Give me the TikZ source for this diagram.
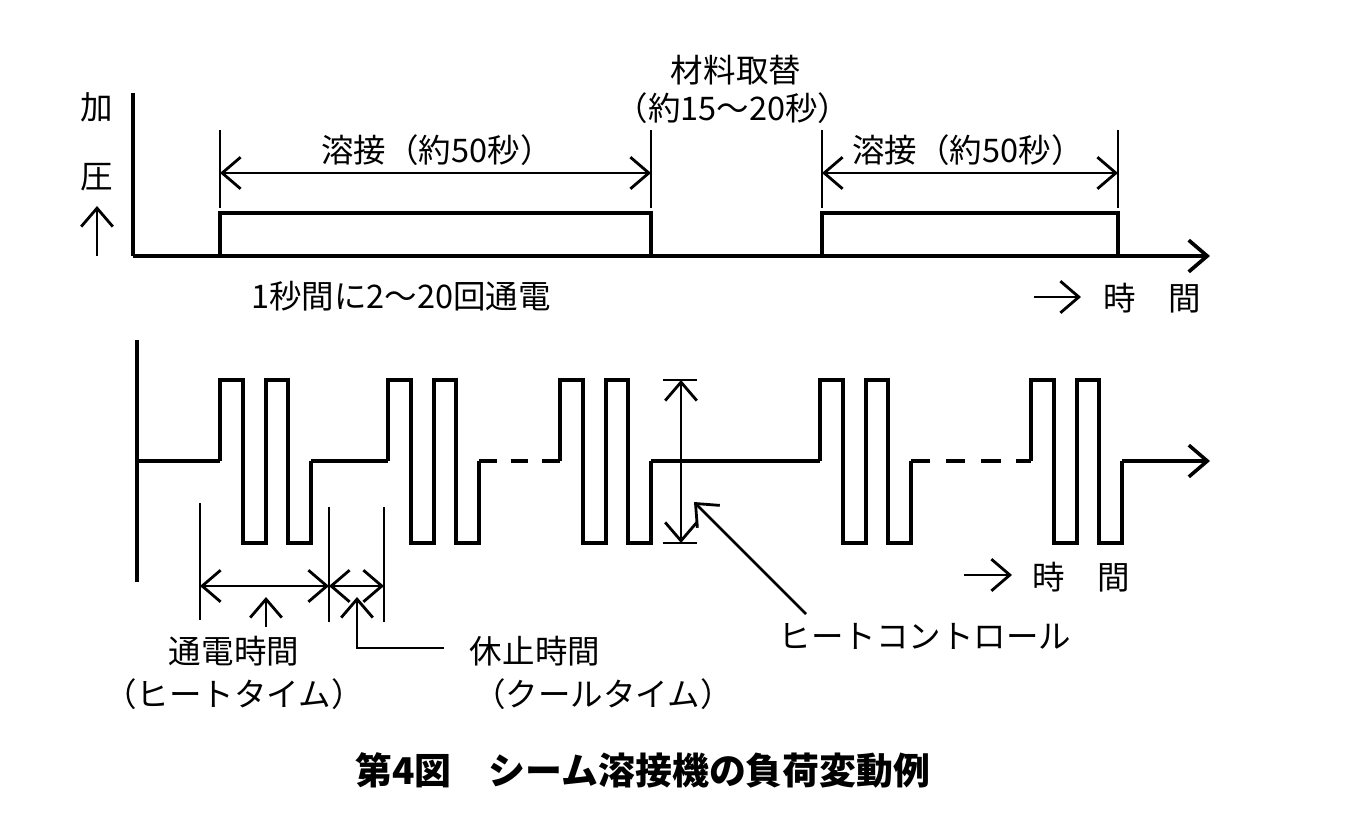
\documentclass[tikz,border=0pt]{standalone}
\usepackage{fontspec}
\setmainfont{Noto Sans CJK JP}
\usetikzlibrary{arrows.meta}

\begin{document}
\begin{tikzpicture}[x=0.02cm, y=-0.02cm,
    >={Straight Barb[length=10.5pt,width=18pt]},
    axis/.style={line width=2.1pt},
    wave/.style={line width=2.0pt},
    dim/.style={line width=1.6pt},
    lbl/.style={inner sep=0pt, font=\fontsize{18.5}{22}\selectfont},
    captxt/.style={inner sep=0pt, font=\fontsize{21}{25}\selectfont\bfseries}]
    \useasboundingbox (0,0) rectangle (1350,821);

    % --- pressure vs time ---
    \node[lbl] (ka) at (97,107) {加};
    \node[lbl] (atsu) at (97,177) {圧};
    \coordinate (up0) at (97,256);
    \coordinate (up1) at (97,206);
    \draw[dim,->] (up0) -- (up1);

    \coordinate (o1) at (133,256);
    \draw[axis] (133,93) -- (o1);
    \draw[axis,->] (o1) -- (1210,256);

    \draw[wave] (220,256) |- (651,213) -- (651,256);
    \draw[wave] (822,256) |- (1118,213) -- (1118,256);
    \foreach \x in {220,651,822,1118}
        \draw[dim] (\x,130) -- (\x,208);

    \coordinate (w1a) at (220,173);
    \coordinate (w1b) at (651,173);
    \coordinate (w2a) at (822,173);
    \coordinate (w2b) at (1118,173);
    \draw[dim,<->] (w1a) -- (w1b);
    \draw[dim,<->] (w2a) -- (w2b);

    \node[lbl] (weld1) at (437,150) {溶接（約50秒）};
    \node[lbl] (weld2) at (968,150) {溶接（約50秒）};
    \node[lbl] (swap) at (736,70) {材料取替};
    \node[lbl] (swapt) at (733,108) {（約15～20秒）};
    \node[lbl] (rate) at (401,296) {1秒間に2～20回通電};

    \coordinate (t1a) at (1034,297);
    \coordinate (t1b) at (1081,297);
    \draw[dim,->] (t1a) -- (t1b);
    \node[lbl] (time1) at (1152,298) {時　間};

    % --- current vs time ---
    \draw[axis] (137,340) -- (137,582);
    \draw[wave] (137,461) -- (220,461);
    \foreach \a in {220,388,560,820,1031}
        \draw[wave] (\a,461) -- (\a,380) -- ++(23,0) -- ++(0,163) -- ++(23,0)
            -- ++(0,-163) -- ++(22,0) -- ++(0,163) -- ++(23,0) -- ++(0,-82);
    \draw[wave] (311,461) -- (388,461);
    \draw[wave, dash pattern=on 10pt off 8pt] (479,461) -- (560,461);
    \draw[wave] (651,461) -- (820,461);
    \draw[wave, dash pattern=on 11pt off 9pt] (911,461) -- (1031,461);
    \coordinate (wend) at (1122,461);
    \coordinate (wtip) at (1210,461);
    \draw[wave,->] (wend) -- (wtip);

    % heat control
    \coordinate (hc1) at (681,380);
    \coordinate (hc2) at (681,543);
    \draw[dim] (663,380) -- (697,380);
    \draw[dim] (663,543) -- (697,543);
    \draw[dim,<->] (hc1) -- (hc2);
    \node[lbl] (heat) at (925,636) {ヒートコントロール};
    \coordinate (hp0) at (806,614);
    \coordinate (hp1) at (694,502);
    \draw[dim,->] (hp0) -- (hp1);

    \coordinate (t2a) at (964,575);
    \coordinate (t2b) at (1012,575);
    \draw[dim,->] (t2a) -- (t2b);
    \node[lbl] (time2) at (1081,577) {時　間};

    % on / off times
    \draw[dim] (200,503) -- (200,620);
    \draw[dim] (329,507) -- (329,622);
    \draw[dim] (384,507) -- (384,622);
    \coordinate (d1) at (200,586);
    \coordinate (d2) at (329,586);
    \coordinate (d3) at (384,586);
    \draw[dim,<->] (d1) -- (d2);
    \draw[dim,<->] (d2) -- (d3);

    \node[lbl] (on) at (234,651) {通電時間};
    \node[lbl] (ont) at (234,694) {（ヒートタイム）};
    \node[lbl] (off) at (535,651) {休止時間};
    \node[lbl] (offt) at (603,694) {（クールタイム）};
    \coordinate (onp0) at (266,627);
    \coordinate (onp1) at (266,597);
    \draw[dim,->] (onp0) -- (onp1);
    \coordinate (offp0) at (444,648);
    \coordinate (offp1) at (357,597);
    \draw[dim,->] (offp0) -| (offp1);

    \node[captxt] (title) at (643,770) {第4図　シーム溶接機の負荷変動例};
\end{tikzpicture}
\end{document}
